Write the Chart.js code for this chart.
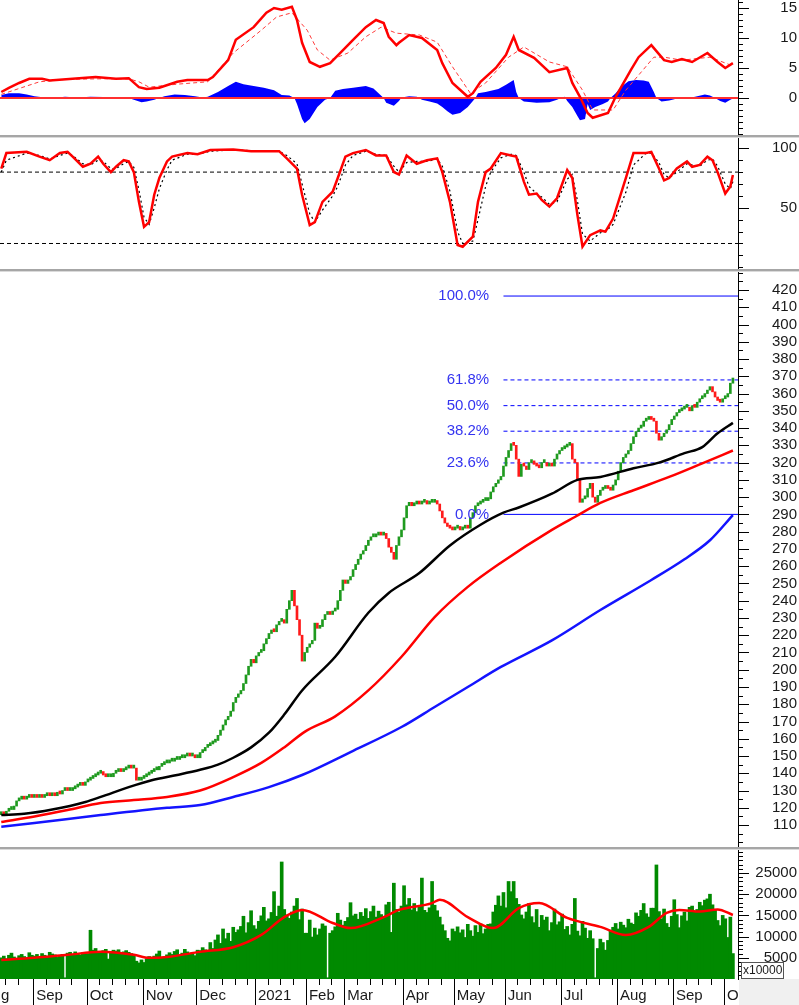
<!DOCTYPE html>
<html>
<head>
<meta charset="utf-8">
<title>Chart</title>
<script src="https://cdn.jsdelivr.net/npm/chart.js@4.4.1/dist/chart.umd.min.js"></script>
<style>
  html, body { margin: 0; padding: 0; background: #fff; }
  #wrap { position: relative; width: 799px; height: 1005px; overflow: hidden; }
  .panel { position: absolute; left: 0; width: 799px; }
  .panel canvas { display: block; }
  .sep { position: absolute; left: 0; width: 799px; height: 3px; background: #a6a6a6; border-bottom: 1px solid #dadada; box-sizing: border-box; }
</style>
</head>
<body>
<div id="wrap">
  <div class="panel" style="top:0;height:135px"><canvas id="macd" width="799" height="135"></canvas></div>
  <div class="sep" style="top:135px"></div>
  <div class="panel" style="top:138px;height:131px"><canvas id="stoch" width="799" height="131"></canvas></div>
  <div class="sep" style="top:269px"></div>
  <div class="panel" style="top:272px;height:575px"><canvas id="price" width="799" height="575"></canvas></div>
  <div class="sep" style="top:847px"></div>
  <div class="panel" style="top:850px;height:155px"><canvas id="volume" width="799" height="155"></canvas></div>
</div>

<script>
// ---- data (one value per trading day, index 0 = mid Aug 2020) ----

// x axis: index of the first session of each month + its label
const monthStarts = [-8, 13, 34, 56, 77, 100, 120, 135, 158, 178, 198, 220, 242, 264, 284];
const monthLabels = ['Aug', 'Sep', 'Oct', 'Nov', 'Dec', '2021', 'Feb', 'Mar', 'Apr', 'May', 'Jun', 'Jul', 'Aug', 'Sep', 'Oct'];

// closing prices
const closes = [
  117, 116, 118, 119, 119, 121, 124, 125, 126, 125, 126, 127, 126,                          // Aug
  127, 126, 127, 126, 127, 128, 127, 128, 127, 129, 128, 130, 131, 130, 130, 131, 132, 133, 134, 133, 135, // Sep
  136, 137, 138, 139, 140, 141, 139, 138, 138, 138, 140, 141, 142, 141, 142, 143, 144, 143, 143, 136, 136, 137, // Oct
  138, 139, 140, 141, 142, 142, 144, 145, 146, 146, 147, 147, 148, 148, 149, 149, 150, 151, 150, 150, 149, // Nov
  149, 152, 153, 155, 156, 157, 158, 159, 162, 165, 168, 171, 173, 176, 181, 184, 186, 188, 192, 197, 202, 206, 204, // Dec
  208, 210, 211, 215, 218, 221, 223, 222, 226, 228, 229, 227, 235, 240, 246, 237, 229, 220, 205, 210, // Jan
  213, 215, 217, 227, 224, 225, 229, 232, 233, 232, 234, 235, 240, 246, 252,                // Feb
  250, 252, 254, 258, 261, 264, 267, 269, 272, 275, 277, 277, 278, 279, 278, 279, 276, 271, 268, 264, 272, 277, 281, // Mar
  288, 295, 297, 295, 296, 297, 296, 297, 298, 296, 297, 297, 298, 296, 292, 288, 285, 283, 282, 281, // Apr
  282, 283, 281, 282, 283, 282, 288, 291, 295, 296, 297, 298, 298, 299, 303, 306, 308, 310, 312, 318, // May
  323, 327, 331, 330, 322, 312, 319, 318, 316, 320, 321, 319, 318, 317, 320, 320, 318, 319, 318, 322, 325, 327, // Jun
  328, 329, 330, 331, 322, 320, 310, 297, 299, 300, 305, 308, 300, 297, 301, 304, 305, 306, 305, 304, 307, 310, // Jul
  315, 320, 323, 325, 327, 331, 335, 338, 340, 341, 344, 345, 346, 345, 344, 337, 333, 335, 337, 339, 342, 345, // Aug
  347, 349, 350, 351, 352, 352, 350, 353, 352, 355, 357, 358, 360, 362, 364, 361, 358, 356, 355, 357, // Sep
  358, 360, 366, 369                                                                        // Oct
];

// volume (x10000)
const volumes = [
  5000, 5400, 4800, 5600, 6100, 5200, 4900, 5500, 5800, 5300, 5000, 6200, 5600,
  5400, 5800, 5200, 6000, 5600, 5300, 6300, 5900, 5700, 5100, 5500, 5800, 300, 6100, 6300, 5800, 6400, 6000, 5700, 6200, 5900,
  6000, 11500, 6800, 7200, 6500, 6300, 6700, 7000, 4700, 6500, 6800, 6600, 6900, 6200, 6400, 6700, 6300, 6000, 5800, 4200, 3800, 4500,
  3900, 4800, 5300, 5000, 5400, 5900, 6600, 5000, 5200, 5700, 6200, 5800, 6500, 6900, 5600, 6100, 7000, 6400, 5900, 6300, 5500,
  6800, 6700, 7400, 6900, 6300, 8600, 7200, 9200, 10400, 8400, 11800, 9500, 10800, 8900, 12200, 11000, 11600, 12400, 14800, 10900, 13300, 16100, 12600,
  11800, 13600, 14900, 16900, 13700, 14200, 15700, 20600, 14800, 17200, 27600, 16400, 15100, 14300, 15800, 17200, 19000, 14000, 16500, 10800,
  10800, 13900, 9900, 12000, 10400, 11800, 13000, 12500, 300, 10800, 11400, 12300, 15500, 13900, 12700,
  13600, 14500, 18000, 14900, 15300, 14100, 15700, 14800, 16600, 14300, 15900, 17200, 14600, 16000, 15200, 14700, 17500, 18100, 11000, 22600, 16400, 15800, 17200,
  22000, 17500, 19000, 16300, 17800, 15900, 17100, 23800, 16200, 15700, 16800, 23000, 17400, 16100, 14600, 12800, 11400, 9600, 9000, 11800,
  11200, 12300, 10900, 11600, 9800, 12900, 11400, 10100, 12600, 11000, 13000, 10700, 11800, 12900, 13000, 15800, 17400, 19600, 17200, 20400,
  16800, 23000, 20600, 23000, 19000, 17600, 15100, 14200, 15800, 17800, 14700, 13300, 16400, 12200, 15000, 13900, 14600, 11400, 13300, 16500, 12800, 13500,
  15300, 11700, 12400, 10400, 12900, 19000, 11300, 10200, 13600, 12000, 9600, 11400, 9500, 300, 7200, 9400, 8600, 6800, 9100, 11500, 12200, 13100,
  11800, 13400, 12700, 12100, 14100, 13200, 12900, 15600, 14800, 16200, 17800, 15400, 14600, 16700, 16700, 26900, 15900, 14200, 16500, 13100, 12200, 14800,
  18700, 15200, 12100, 14900, 15800, 13700, 16900, 17200, 15800, 16400, 18100, 17300, 18600, 18900, 20000, 17500, 16300, 13800, 12600, 15000,
  14200, 9800, 14600, 6000
];

// moving averages, read at a few sessions
const maBlackIdx = [0, 9, 20, 33, 39, 50, 59, 69, 78, 85, 91, 98, 105, 111, 118, 131, 144, 152, 164, 176, 188, 197, 203, 216, 226, 235, 248, 258, 268, 275, 281, 287];
const maBlack = [115.8, 116.5, 119, 123.4, 126.3, 132, 136, 139, 142, 145, 149, 155, 163.5, 174, 188, 207.5, 233, 244.5, 256, 272, 284, 291, 294, 302, 310, 311.7, 316.7, 320, 325.5, 329, 337, 343];
const maRedIdx = [0, 13, 26, 39, 52, 65, 78, 91, 102, 111, 119, 131, 144, 157, 170, 183, 196, 216, 225, 235, 248, 262, 275, 287];
const maRed = [111.8, 115, 118.7, 122.8, 124.5, 126.3, 130, 137.8, 146, 155, 164, 173, 188, 207.5, 230.5, 248, 262, 281, 288.5, 296.6, 304, 311.7, 319.6, 327];
const maBlueIdx = [0, 13, 39, 65, 78, 91, 105, 118, 137, 157, 170, 183, 196, 216, 235, 255, 268, 278, 287];
const maBlue = [109, 111.2, 115.8, 120, 121.6, 126.3, 132, 139, 152.3, 166.8, 178.4, 190, 201.6, 217, 234.6, 252, 264, 275, 289.6];

// fibonacci retracement
const fibLabels = ['0.0%', '23.6%', '38.2%', '50.0%', '61.8%', '100.0%'];
const fibPrices = [290, 319.8, 338.2, 353, 367.9, 416.5];
const fibStart = 197;

// MACD
const macdIdx = [0, 3, 7, 11, 16, 19, 28, 37, 45, 50, 54, 57, 62, 69, 73, 81, 83, 89, 92, 99, 104, 107, 110, 114, 116, 118, 121, 125, 129, 133, 138, 143, 147, 150, 152, 155, 156, 160, 165, 171, 173, 177, 183, 185, 188, 194, 198, 201, 203, 209, 215, 222, 224, 227, 230, 232, 238, 241, 247, 250, 255, 260, 263, 267, 271, 277, 281, 284, 287];
const macdLine = [1.0, 1.7, 2.5, 3.2, 3.2, 2.9, 3.2, 3.5, 3.2, 3.3, 1.8, 1.5, 1.7, 2.7, 3.0, 3.0, 3.5, 6.3, 9.7, 11.8, 14.2, 15.0, 14.7, 15.2, 13.0, 9.2, 6.0, 5.2, 5.8, 7.5, 9.7, 11.8, 13.0, 12.5, 10.2, 8.8, 9.2, 10.5, 10.0, 8.0, 5.8, 2.5, 0.2, 0.8, 2.7, 5.0, 7.2, 10.2, 8.0, 6.7, 4.3, 5.0, 2.5, 0.2, -2.5, -3.3, -2.5, 0.2, 4.7, 6.8, 8.8, 6.3, 6.0, 6.5, 6.0, 7.5, 6.0, 5.0, 5.8];
const signalIdx = [0, 5, 15, 25, 40, 50, 54, 58, 69, 81, 91, 102, 108, 114, 120, 124, 129, 136, 143, 149, 155, 164, 171, 177, 184, 190, 199, 205, 215, 222, 228, 232, 240, 245, 256, 260, 267, 278, 286, 287];
const signalLine = [0.6, 1.3, 2.7, 3.1, 3.2, 3.2, 2.7, 1.8, 2.3, 2.7, 7.5, 11.3, 13.5, 14.2, 11.3, 8.0, 6.3, 7.5, 10.2, 11.8, 10.8, 10.5, 9.3, 5.2, 0.8, 2.5, 6.8, 8.5, 6.0, 5.2, 1.3, -2.0, -2.0, 1.3, 6.8, 6.8, 6.3, 6.8, 5.5, 5.6];
const histIdx = [0, 3, 7, 10, 13, 17, 20, 25, 30, 35, 40, 45, 50, 52, 55, 57, 60, 62, 64, 68, 72, 76, 79, 81, 85, 89, 92, 95, 99, 103, 107, 110, 113, 115, 116, 118, 119, 121, 124, 127, 129, 131, 134, 138, 143, 146, 148, 150, 151, 154, 156, 157, 160, 163, 165, 168, 171, 173, 175, 177, 180, 183, 185, 186, 187, 190, 195, 198, 201, 202, 203, 205, 210, 215, 218, 220, 221, 222, 224, 226, 227, 229, 230, 231, 233, 236, 238, 239, 241, 243, 246, 249, 252, 254, 256, 257, 259, 262, 264, 266, 268, 270, 273, 276, 278, 280, 282, 284, 286, 287];
const histValues = [0.5, 0.8, 0.8, 0.6, 0.3, 0.1, 0.0, 0.2, 0.1, 0.2, 0.15, 0.0, 0.0, -0.3, -0.7, -0.6, -0.3, 0.0, 0.3, 0.6, 0.5, 0.3, 0.1, 0.2, 1.0, 2.0, 2.7, 2.3, 2.0, 1.7, 1.3, 0.5, 0.4, 0.0, -1.0, -3.5, -4.2, -3.5, -1.5, -0.3, 0.0, 1.2, 1.5, 1.7, 2.0, 1.6, 0.8, 0.0, -0.8, -1.3, -0.5, 0.1, 0.3, 0.2, -0.3, -0.6, -0.9, -1.5, -2.2, -2.8, -2.5, -1.5, -0.5, 0.0, 0.8, 1.0, 1.5, 2.2, 3.0, 1.0, 0.0, -0.6, -0.8, -0.7, -0.3, 0.1, 0.2, -0.5, -1.5, -3.0, -3.7, -3.5, -1.0, -2.0, -1.5, -1.0, -0.6, 0.0, 0.8, 1.8, 2.8, 3.0, 2.9, 2.7, 1.0, 0.0, -0.6, -0.4, -0.2, 0.1, 0.1, 0.0, 0.3, 0.6, 0.4, 0.0, -0.5, -0.8, -0.3, -0.1];

// Stochastic %K / %D
const stochIdx = [0, 2, 10, 15, 19, 23, 26, 28, 32, 35, 38, 40, 43, 45, 48, 50, 52, 54, 56, 58, 60, 62, 65, 67, 73, 77, 82, 91, 98, 109, 112, 116, 118, 121, 123, 126, 130, 132, 135, 138, 143, 147, 151, 154, 156, 159, 163, 167, 171, 173, 176, 179, 181, 185, 187, 190, 192, 196, 200, 202, 205, 207, 210, 212, 215, 218, 222, 224, 226, 228, 231, 235, 237, 240, 245, 248, 253, 255, 258, 260, 262, 265, 269, 271, 274, 277, 279, 281, 284, 286, 287];
const stochK = [83, 96, 97, 93, 90, 96, 97, 93, 84.5, 87, 93, 87, 80, 84.5, 90, 89, 80, 55, 34, 38, 61, 75, 89, 93, 96, 95, 98.6, 99, 97.6, 97.6, 91.6, 83, 61, 35.5, 38, 55, 63.5, 75, 93, 96, 98.6, 94, 94, 80, 78, 94, 87, 90, 91.6, 80, 55, 18.7, 17.3, 25.7, 55, 80, 83, 96, 94, 93, 72, 61, 62, 56.6, 51, 58, 81.8, 75, 44, 17.3, 27, 31, 30, 41, 75, 96, 96, 97, 83, 73, 75, 83, 89, 84.5, 86, 93, 90, 80, 62, 68, 77.6];
const stochD = [80, 90, 96, 94, 91, 94, 96, 94, 87, 86, 90, 89, 83, 83, 87, 89, 84, 65, 42, 36, 50, 66, 82, 90, 95, 95, 97.5, 98.8, 98, 97.6, 94, 87, 70, 45, 38, 48, 60, 68, 86, 94, 97.5, 95, 94, 85, 80, 88, 89, 89, 91, 85, 64, 30, 20, 22, 40, 68, 80, 92, 95, 94, 80, 68, 62, 59, 53, 55, 74, 78, 56, 28, 22, 29, 30, 36, 63, 86, 96, 96, 88, 78, 75, 80, 87, 86, 85, 90, 91, 85, 70, 66, 72];

// volume moving average
const volMaIdx = [0, 13, 26, 39, 52, 58, 65, 78, 91, 102, 111, 118, 130, 137, 150, 156, 169, 172, 183, 193, 203, 211, 222, 235, 245, 254, 261, 266, 274, 281, 287];
const volMa = [4500, 5000, 5700, 6400, 5700, 5000, 5200, 6400, 7500, 10400, 14600, 16300, 13200, 12000, 14600, 16300, 17900, 18700, 14600, 12000, 16700, 17900, 14400, 12300, 10400, 12300, 15600, 16300, 15900, 16400, 15100];

// right axis labels
const macdTicks = [0, 5, 10, 15];
const stochTicks = [50, 100];
const priceTicks = [110, 120, 130, 140, 150, 160, 170, 180, 190, 200, 210, 220, 230, 240, 250, 260, 270, 280, 290, 300, 310, 320, 330, 340, 350, 360, 370, 380, 390, 400, 410, 420];
const volTicks = [5000, 10000, 15000, 20000, 25000];

// ---- helpers ----
const FONT = '15px "Liberation Sans", Arial, sans-serif';
const X_MAX = 289;
const pts = (idx, vals) => idx.map((x, k) => ({ x: x, y: vals[k] }));
const flat = (v, from) => [{ x: from, y: v }, { x: X_MAX, y: v }];

function line(data, color, width, dash) {
  return {
    type: 'line',
    data: data,
    borderColor: color,
    borderWidth: width,
    borderDash: dash || [],
    pointRadius: 0,
    fill: false,
    tension: 0
  };
}

// smooth moving-average curve
function maLine(data, color) {
  return Object.assign(line(data, color, 2.5), { cubicInterpolationMode: 'monotone' });
}

// right axis: line, ticks, labels; bottom axis for the volume panel
const panelAxis = {
  id: 'panelAxis',
  afterDraw(chart, args, opts) {
    const { ctx, chartArea: a } = chart;
    const y = chart.scales.y;
    ctx.save();
    ctx.strokeStyle = '#000';
    ctx.lineWidth = 1;
    ctx.beginPath();
    ctx.moveTo(a.right + 0.5, 0);
    ctx.lineTo(a.right + 0.5, a.bottom);
    ctx.stroke();

    const first = Math.ceil(y.min / opts.minor) * opts.minor;
    ctx.beginPath();
    for (let v = first; v <= y.max; v += opts.minor) {
      const py = Math.round(y.getPixelForValue(v)) + 0.5;
      const len = opts.labels.includes(Math.round(v * 100) / 100) ? 11 : 5;
      ctx.moveTo(a.right, py);
      ctx.lineTo(a.right + len, py);
    }
    ctx.stroke();

    ctx.font = FONT;
    ctx.fillStyle = '#1a1a1a';
    ctx.textAlign = 'right';
    ctx.textBaseline = 'middle';
    opts.labels.forEach(v => ctx.fillText(String(v), chart.width - 2, y.getPixelForValue(v)));

    if (opts.months) {
      const x = chart.scales.x;
      ctx.beginPath();
      monthStarts.forEach((m, k) => {
        const next = k + 1 < monthStarts.length ? monthStarts[k + 1] : X_MAX + 1;
        const px = Math.round(x.getPixelForValue(m - 0.5)) + 0.5;
        ctx.moveTo(px, a.bottom);
        ctx.lineTo(px, chart.height);
        for (let w = m + 5; w < next - 1; w += 5) {
          const wx = Math.round(x.getPixelForValue(w - 0.5)) + 0.5;
          ctx.moveTo(wx, a.bottom);
          ctx.lineTo(wx, a.bottom + 6);
        }
      });
      ctx.stroke();
      ctx.fillStyle = '#1a1a1a';
      ctx.textAlign = 'left';
      monthStarts.forEach((m, k) => {
        ctx.fillText(monthLabels[k], x.getPixelForValue(m - 0.5) + 3, a.bottom + 17);
      });

      // grey corner covers the cut label
      ctx.fillStyle = '#f0f0f0';
      ctx.fillRect(a.right + 1, a.bottom, chart.width - a.right, chart.height - a.bottom);

      // unit box
      ctx.fillStyle = '#fff';
      ctx.fillRect(a.right + 3.5, a.bottom - 16.5, 42, 16);
      ctx.strokeStyle = '#555';
      ctx.strokeRect(a.right + 3.5, a.bottom - 16.5, 42, 16);
      ctx.fillStyle = '#1a1a1a';
      ctx.font = '12px "Liberation Sans", Arial, sans-serif';
      ctx.fillText('x10000', a.right + 5, a.bottom - 8);
    }
    ctx.restore();
  }
};

// fibonacci labels
const fibText = {
  id: 'fibText',
  afterDatasetsDraw(chart) {
    const { ctx } = chart;
    const x = chart.scales.x, y = chart.scales.y;
    ctx.save();
    ctx.font = FONT;
    ctx.fillStyle = '#3434f0';
    ctx.textAlign = 'right';
    ctx.textBaseline = 'middle';
    fibPrices.forEach((p, k) => ctx.fillText(fibLabels[k], x.getPixelForValue(fibStart - 5.6), y.getPixelForValue(p)));
    ctx.restore();
  }
};

function options(yMin, yMax, axis, bottomPad) {
  return {
    animation: false,
    responsive: false,
    events: [],
    layout: { padding: { left: 0, top: 0, right: 61, bottom: bottomPad || 0 } },
    plugins: {
      legend: { display: false },
      tooltip: { enabled: false },
      panelAxis: axis
    },
    scales: {
      x: { type: 'linear', min: -0.5, max: X_MAX, offset: false, display: false },
      y: { type: 'linear', min: yMin, max: yMax, display: false }
    }
  };
}

Chart.defaults.font.family = '"Liberation Sans", Arial, sans-serif';

// ---- MACD ----
new Chart(document.getElementById('macd'), {
  type: 'line',
  data: {
    datasets: [
      line(pts(macdIdx, macdLine), '#ff0000', 2.5),
      line(pts(signalIdx, signalLine), '#ff3a3a', 1, [4, 3]),
      line(flat(0, -0.5), '#ff3030', 2),
      {
        type: 'line',
        data: pts(histIdx, histValues),
        borderWidth: 0,
        pointRadius: 0,
        backgroundColor: '#0000ff',
        fill: 'origin',
        tension: 0
      }
    ]
  },
  options: options(-6.17, 16.33, { labels: macdTicks, minor: 1 }),
  plugins: [panelAxis]
});

// ---- Stochastic ----
new Chart(document.getElementById('stoch'), {
  type: 'line',
  data: {
    datasets: [
      line(pts(stochIdx, stochK), '#ff0000', 2.5),
      line(pts(stochIdx, stochD), '#000000', 1.2, [2, 3]),
      line(flat(80, -0.5), '#000000', 1, [4, 3]),
      line(flat(20, -0.5), '#000000', 1, [4, 3])
    ]
  },
  options: options(-1.43, 108.66, { labels: stochTicks, minor: 10 }),
  plugins: [panelAxis]
});

// ---- Price ----
const candleData = closes.map((c, i) => ({ x: i, y: [i ? closes[i - 1] : c - 1, c] }));
const candleColors = closes.map((c, i) => (i && c < closes[i - 1]) ? '#ff1a1a' : '#1f9a1f');

new Chart(document.getElementById('price'), {
  type: 'bar',
  data: {
    datasets: [
      maLine(pts(maBlackIdx, maBlack), '#000000'),
      maLine(pts(maRedIdx, maRed), '#ff0000'),
      maLine(pts(maBlueIdx, maBlue), '#1414ff'),
      {
        type: 'bar',
        data: candleData,
        backgroundColor: candleColors,
        barThickness: 2,
        minBarLength: 3
      }
    ].concat(fibPrices.map((p, k) =>
      line(flat(p, fibStart), '#0000ff', 1, (k === 0 || k === fibPrices.length - 1) ? [] : [4, 3])
    ))
  },
  options: options(97.29, 430.43, { labels: priceTicks, minor: 5 }),
  plugins: [panelAxis, fibText]
});

// ---- Volume ----
new Chart(document.getElementById('volume'), {
  type: 'bar',
  data: {
    datasets: [
      maLine(pts(volMaIdx, volMa), '#ff0000'),
      {
        type: 'bar',
        data: volumes.map((v, i) => ({ x: i, y: v })),
        backgroundColor: '#008a00',
        barThickness: 3
      }
    ]
  },
  options: options(0, 30425, { labels: volTicks, minor: 1000, months: true }, 26),
  plugins: [panelAxis]
});
</script>
</body>
</html>
